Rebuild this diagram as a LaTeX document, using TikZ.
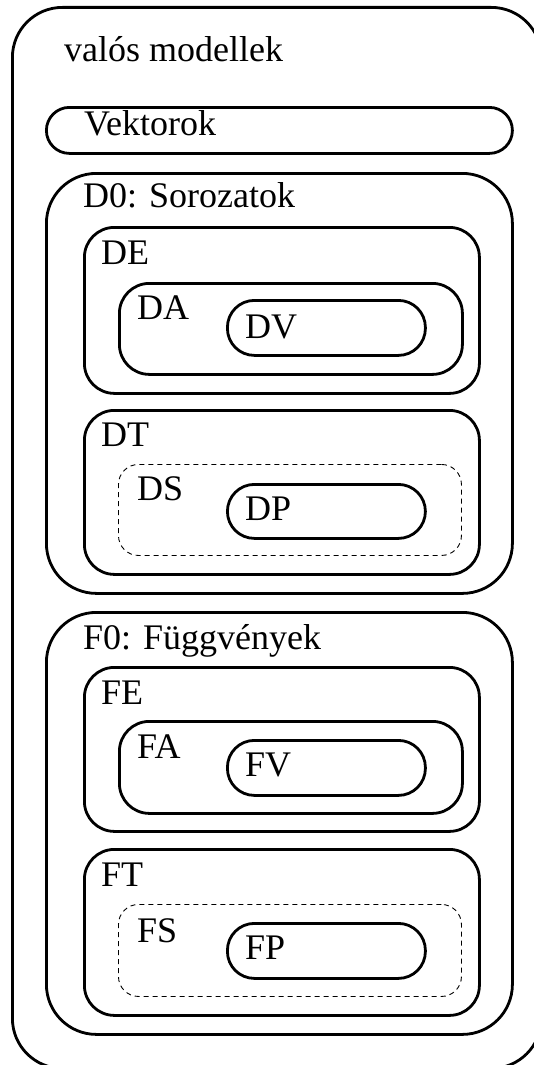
\documentclass[tikz,border=0pt]{standalone}
\usepackage{fontspec}
\setmainfont{Liberation Serif}
\begin{document}
\begin{tikzpicture}[x=1pt,y=-1pt,
  lbl/.style={anchor=base west,inner sep=0pt,font=\fontsize{36}{40}\selectfont},
  frame/.style={draw,line width=2.8pt,inner sep=0pt,anchor=north west},
  bigbox/.style={frame,rounded corners=50pt},
  midbox/.style={frame,rounded corners=30pt},
  pill/.style={frame,rounded corners=27pt},
  setbox/.style={draw,dashed,dash pattern=on 5pt off 4pt,line width=0.9pt,inner sep=0pt,anchor=north west,rounded corners=20pt}
]
\useasboundingbox (0,0) rectangle (533,1065);

% outer frame, running past the right and bottom edges
\node[bigbox,minimum width=529pt,minimum height=1061pt] (outer) at (11,6) {};
\node[lbl] (tvalos) at (64,62) {valós modellek};

% vectors
\node[pill,rounded corners=23pt,minimum width=466pt,minimum height=46pt] (vek) at (45,106) {};
\node[lbl] (tvek) at (84,135) {Vektorok};

% sequences
\node[bigbox,minimum width=466pt,minimum height=420pt] (d0) at (45,172) {};
\node[lbl] (td0) at (83,207) {D0: Sorozatok};
\node[midbox,minimum width=395pt,minimum height=166pt] (de) at (83,226) {};
\node[lbl] (tde) at (101,264) {DE};
\node[midbox,minimum width=343pt,minimum height=91pt] (da) at (118,282) {};
\node[lbl] (tda) at (137,319) {DA};
\node[pill,minimum width=198pt,minimum height=55pt] (dv) at (226,299) {};
\node[lbl] (tdv) at (245,338) {DV};
\node[midbox,minimum width=395pt,minimum height=164pt] (dt) at (83,409) {};
\node[lbl] (tdt) at (101,446) {DT};
\node[setbox,minimum width=343pt,minimum height=91pt] (ds) at (118,464) {};
\node[lbl] (tds) at (137,500) {DS};
\node[pill,minimum width=198pt,minimum height=54pt] (dp) at (226,483) {};
\node[lbl] (tdp) at (245,520) {DP};

% functions
\node[bigbox,minimum width=466pt,minimum height=422pt] (f0) at (45,611) {};
\node[lbl] (tf0) at (83,649) {F0: Függvények};
\node[midbox,minimum width=395pt,minimum height=164pt] (fe) at (83,666) {};
\node[lbl] (tfe) at (101,704) {FE};
\node[midbox,minimum width=343pt,minimum height=92pt] (fa) at (118,720) {};
\node[lbl] (tfa) at (137,758) {FA};
\node[pill,minimum width=198pt,minimum height=55pt] (fv) at (226,739) {};
\node[lbl] (tfv) at (245,776) {FV};
\node[midbox,minimum width=395pt,minimum height=166pt] (ft) at (83,848) {};
\node[lbl] (tft) at (101,886) {FT};
\node[setbox,minimum width=343pt,minimum height=92pt] (fs) at (118,904) {};
\node[lbl] (tfs) at (137,942) {FS};
\node[pill,minimum width=198pt,minimum height=55pt] (fp) at (226,922) {};
\node[lbl] (tfp) at (245,959) {FP};
\end{tikzpicture}
\end{document}
